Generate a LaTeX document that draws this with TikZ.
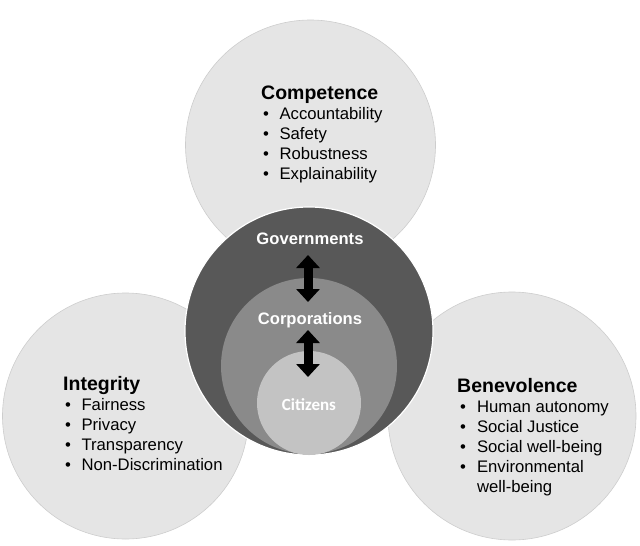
\documentclass[tikz,border=0pt]{standalone}
\usepackage{fontspec}
\setmainfont{Liberation Sans}
\newfontfamily\citfont{Carlito}
\usetikzlibrary{arrows.meta}
\definecolor{outerfill}{RGB}{229,229,229}
\definecolor{rimcol}{RGB}{205,205,205}
\definecolor{govfill}{RGB}{88,88,88}
\definecolor{corpfill}{RGB}{138,138,138}
\definecolor{citfill}{RGB}{195,195,195}
\newcommand{\headfont}{\fontsize{19.5}{20}\selectfont\bfseries}
\begin{document}
\begin{tikzpicture}[x=1pt,y=-1pt,
  outercircle/.style={circle,fill=outerfill,draw=rimcol,line width=0.6pt,inner sep=0pt},
  govcircle/.style={circle,fill=govfill,draw=white,line width=1.2pt,inner sep=0pt},
  corpcircle/.style={circle,fill=corpfill,inner sep=0pt},
  citcircle/.style={circle,fill=citfill,inner sep=0pt},
  textblock/.style={anchor=base west,inner sep=0pt,font=\fontsize{16.7}{20}\selectfont},
  innerlabel/.style={anchor=base,inner sep=0pt,text=white,font=\fontsize{16.6}{20}\selectfont\bfseries},
  bigarrow/.style={line width=9pt,black,{Triangle[width=23pt,length=13pt]}-{Triangle[width=23pt,length=13pt]}}
]
\useasboundingbox (0,0) rectangle (640,546);
% outer circles
\node[outercircle,minimum size=250pt] (compc) at (310.5,145) {};
\node[outercircle,minimum size=246pt] (integc) at (125.5,416) {};
\node[outercircle,minimum size=248pt] (benec) at (512,416) {};
% central nested circles
\node[govcircle,minimum size=248pt] (govc) at (309,331) {};
\node[corpcircle,minimum size=176pt] (corpc) at (309,366) {};
\node[citcircle,minimum size=104pt] (citc) at (309,403) {};
% labels
\node[innerlabel] (gov) at (310,244) {Governments};
\node[innerlabel] (corp) at (310,324) {Corporations};
\node[innerlabel,font=\citfont\fontsize{17}{20}\selectfont\bfseries] (cit) at (309,410.5) {Citizens};
% arrows
\draw[bigarrow] ([xshift=-2pt,yshift=-11pt]gov.base) -- ([xshift=-2pt,yshift=22pt]corp.base);
\draw[bigarrow] ([xshift=-2pt,yshift=-6pt]corp.base) -- ([xshift=-1pt,yshift=33.5pt]cit.base);
% text blocks
\node[textblock] (comptext) at (261,99) {\begin{tabular}[t]{@{\hspace{2pt}}l@{\hspace{10.5pt}}l@{}}
\multicolumn{2}{@{}l@{}}{\headfont Competence}\\
\textbullet & Accountability\\
\textbullet & Safety\\
\textbullet & Robustness\\
\textbullet & Explainability
\end{tabular}};
\node[textblock] (integtext) at (63,390) {\begin{tabular}[t]{@{\hspace{2pt}}l@{\hspace{10.5pt}}l@{}}
\multicolumn{2}{@{}l@{}}{\headfont Integrity}\\
\textbullet & Fairness\\
\textbullet & Privacy\\
\textbullet & Transparency\\
\textbullet & Non-Discrimination
\end{tabular}};
\node[textblock] (benetext) at (457,392) {\begin{tabular}[t]{@{\hspace{3pt}}l@{\hspace{11pt}}l@{}}
\multicolumn{2}{@{}l@{}}{\headfont Benevolence}\\
\textbullet & Human autonomy\\
\textbullet & Social Justice\\
\textbullet & Social well-being\\
\textbullet & Environmental\\
 & well-being
\end{tabular}};
\end{tikzpicture}
\end{document}
